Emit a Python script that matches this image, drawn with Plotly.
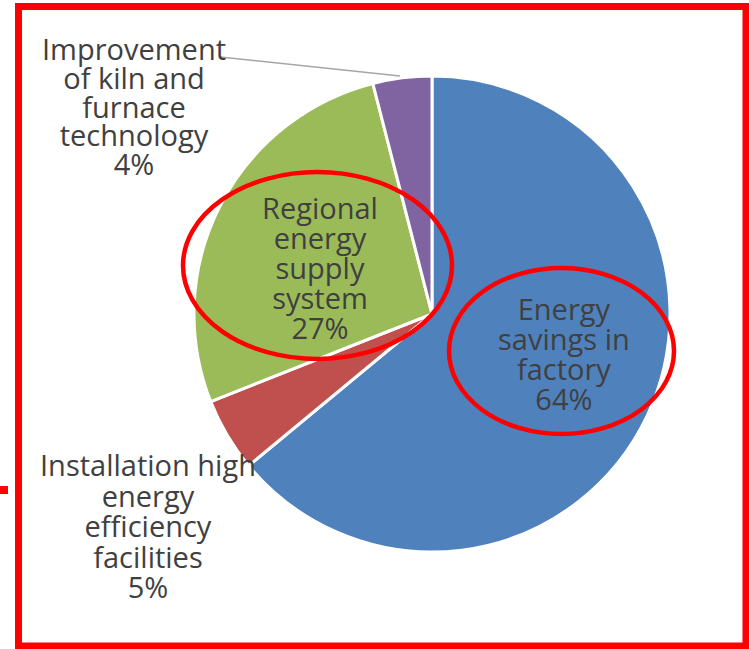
import plotly.graph_objects as go

W, H = 749, 649

labels = ["Energy savings in factory", "Installation high energy efficiency facilities",
          "Regional energy supply system", "Improvement of kiln and furnace technology"]
values = [64, 5, 27, 4]
colors = ["#4f81bd", "#c0504d", "#9bbb59", "#8064a2"]
label_lines = [
    ["Energy", "savings in", "factory", "64%"],
    ["Installation high", "energy", "efficiency", "facilities", "5%"],
    ["Regional", "energy", "supply", "system", "27%"],
    ["Improvement", "of kiln and", "furnace", "technology", "4%"],
]
# (center x, first line center y, line spacing) in pixels
label_pos = [(563.5, 308, 30), (147.5, 464, 30.5), (319.5, 208, 30), (134, 48.5, 28.8)]

def px(x):
    return x / W

def py(y):
    return 1 - y / H

cx, cy, r = 432, 314, 238
TEXT_SIZE = 29

fig = go.Figure(go.Pie(
    labels=labels, values=values, sort=False, direction="clockwise", rotation=0,
    marker=dict(colors=colors, line=dict(color="white", width=3)),
    textinfo="none", hoverinfo="label+percent", showlegend=False,
    domain=dict(x=[px(cx - r), px(cx + r)], y=[py(cy + r), py(cy - r)]),
))

anns = []
for lines, (x, y0, dy) in zip(label_lines, label_pos):
    n = len(lines)
    base = dy / 1.3  # plotly spaces lines by 1.3 em of the annotation font
    txt = "<br>".join(f"<span style='font-size:{TEXT_SIZE}px'>{t}</span>" for t in lines)
    anns.append(dict(text=txt, x=px(x), y=py(y0 + (n - 1) * dy / 2), xref="paper", yref="paper",
                     xanchor="center", yanchor="middle", showarrow=False, align="center",
                     font=dict(family="Open Sans", size=base, color="#404040")))

shapes = [
    # leader line
    dict(type="line", xref="paper", yref="paper", x0=px(220), y0=py(57), x1=px(400), y1=py(76),
         line=dict(color="#a6a6a6", width=1.5)),
    # ellipses
    dict(type="circle", xref="paper", yref="paper", x0=px(183), x1=px(452), y0=py(172), y1=py(359),
         line=dict(color="#ff0000", width=4.5)),
    dict(type="circle", xref="paper", yref="paper", x0=px(449), x1=px(674), y0=py(268), y1=py(434),
         line=dict(color="#ff0000", width=4.5)),
    # border
    dict(type="rect", xref="paper", yref="paper", x0=px(18.5), x1=px(746), y0=py(646), y1=py(6.5),
         line=dict(color="#ff0000", width=7)),
    # small tick on the left
    dict(type="rect", xref="paper", yref="paper", x0=px(0), x1=px(8), y0=py(494), y1=py(486),
         line=dict(width=0), fillcolor="#ff0000"),
]

fig.update_layout(width=W, height=H, margin=dict(l=0, r=0, t=0, b=0),
                  paper_bgcolor="white", plot_bgcolor="white",
                  annotations=anns, shapes=shapes)

fig.write_html("out.html", config={"displayModeBar": False},
               post_script="document.body.style.margin='0';document.body.style.overflow='hidden';")
